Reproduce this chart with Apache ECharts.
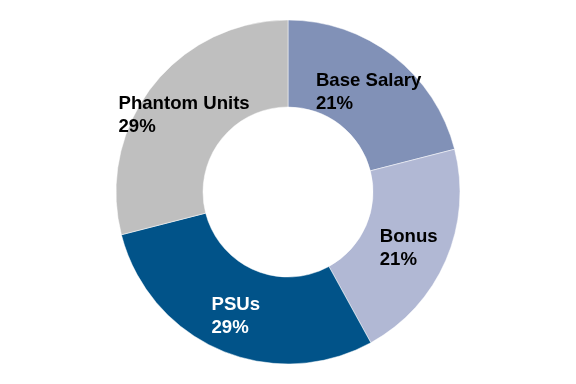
<!DOCTYPE html>
<html>
<head>
<meta charset="utf-8">
<script src="https://cdn.jsdelivr.net/npm/echarts@6/dist/echarts.min.js"></script>
<style>html,body{margin:0;padding:0;background:#fff}#c{width:576px;height:384px}</style>
</head>
<body>
<div id="c"></div>
<script>
var categories = ['Base Salary', 'Bonus', 'PSUs', 'Phantom Units'];
var values = [21, 21, 29, 29];
var colors = ['#8191B7', '#B1B8D4', '#015389', '#BFBFBF'];
var labelColors = ['#000000', '#000000', '#FFFFFF', '#000000'];

var chart = echarts.init(document.getElementById('c'), null, {renderer: 'canvas'});
var data = categories.map(function (name, i) {
  return {
    name: name,
    value: values[i],
    itemStyle: {color: colors[i]},
    label: {color: labelColors[i]}
  };
});
chart.setOption({
  animation: false,
  series: [{
    type: 'pie',
    center: [288, 192],
    radius: [85, 172],
    startAngle: 90,
    clockwise: true,
    avoidLabelOverlap: false,
    itemStyle: {borderColor: '#ffffff', borderWidth: 0.5},
    label: {
      show: true,
      position: 'inside',
      offset: [0, 4],
      fontFamily: 'Liberation Sans, Arial, sans-serif',
      fontWeight: 'bold',
      fontSize: 18.6,
      lineHeight: 23,
      formatter: function (p) { return '{a|' + p.name + '}\n{a|' + p.value + '%}'; },
      rich: {a: {align: 'left', fontFamily: 'Liberation Sans, Arial, sans-serif', fontWeight: 'bold', fontSize: 18.6, lineHeight: 23}}
    },
    labelLine: {show: false},
    emphasis: {disabled: true},
    data: data
  }]
});
</script>
</body>
</html>
